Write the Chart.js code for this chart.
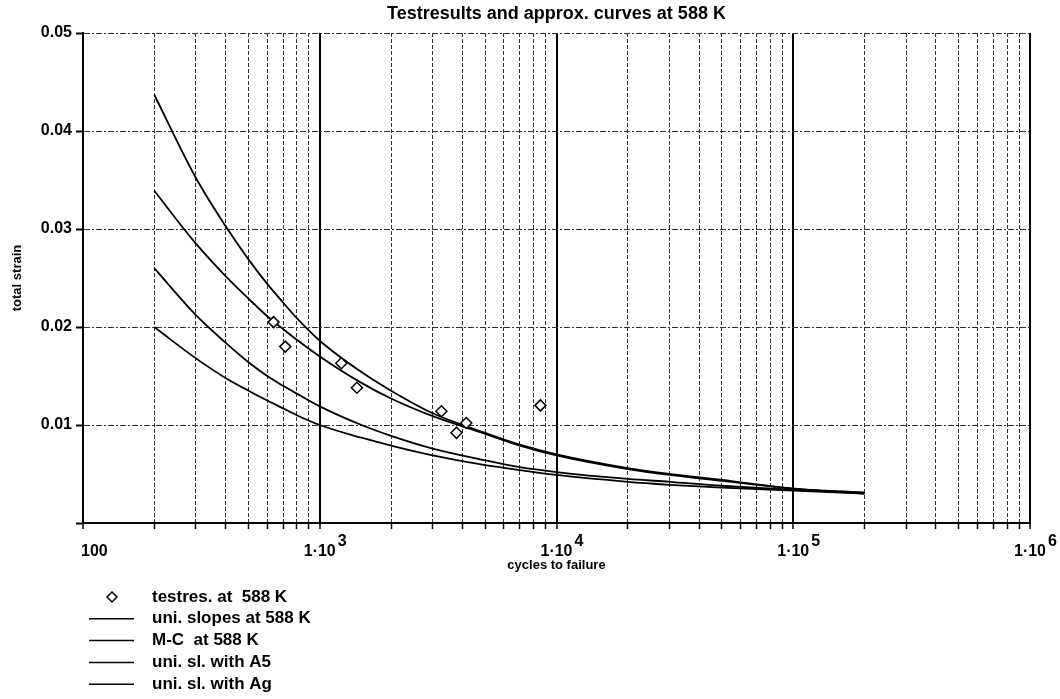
<!DOCTYPE html>
<html>
<head>
<meta charset="utf-8">
<script src="https://cdn.jsdelivr.net/npm/chart.js@4.4.1/dist/chart.umd.min.js"></script>
<style>
  body { margin: 0; background: #fff; }
  canvas { display: block; }
</style>
</head>
<body>
<canvas id="fatigueChart" width="1060" height="699"></canvas>
<script>
// test results at 588 K
const testCycles = [638, 715, 1233, 1435, 3265, 3780, 4160, 8550];
const testStrain = [0.0205, 0.0180, 0.0163, 0.0138, 0.0114, 0.0092, 0.0102, 0.0120];

// approximation curves, all sampled at the same cycle counts
const curveCycles = [200, 300, 400, 500, 600, 700, 800, 1000, 1500, 2000, 3000, 5000, 7000, 10000, 20000, 30000, 50000, 100000, 200000];
const uniSlopes = [0.0437, 0.0352, 0.0303, 0.0269, 0.0244, 0.0225, 0.0209, 0.0186, 0.0154, 0.0135, 0.0112, 0.0092, 0.0080, 0.0070, 0.0056, 0.0050, 0.0044, 0.0035, 0.0031];
const mansonCoffin = [0.0339, 0.0285, 0.0252, 0.0229, 0.0211, 0.0198, 0.0187, 0.0170, 0.0143, 0.0127, 0.0109, 0.0091, 0.0079, 0.0069, 0.0055, 0.0049, 0.0043, 0.0035, 0.0030];
const uniSlA5 = [0.0260, 0.0212, 0.0184, 0.0164, 0.0150, 0.0140, 0.0132, 0.0119, 0.0100, 0.0089, 0.0076, 0.0064, 0.0057, 0.0052, 0.0045, 0.0042, 0.0038, 0.0034, 0.0031];
const uniSlAg = [0.0200, 0.0168, 0.0148, 0.0135, 0.0125, 0.0117, 0.0110, 0.0100, 0.0087, 0.0079, 0.0069, 0.0059, 0.0054, 0.0049, 0.0042, 0.0039, 0.0036, 0.0033, 0.0030];

// x tick labels (base + exponent)
const xLabelValues = [100, 1000, 10000, 100000, 1000000];
const xLabelBase = ["100", "1·10", "1·10", "1·10", "1·10"];
const xLabelExp = ["", "3", "4", "5", "6"];

const FONT = '"Liberation Sans", Arial, sans-serif';

function isDecade(v) {
  const l = Math.log10(v);
  return Math.abs(l - Math.round(l)) < 1e-9;
}

function toPoints(xs, ys) {
  return xs.map((x, i) => ({ x: x, y: ys[i] }));
}

function curve(label, values) {
  return {
    label: label,
    data: toPoints(curveCycles, values),
    showLine: true,
    borderColor: "#000",
    borderWidth: 1.8,
    pointRadius: 0,
    cubicInterpolationMode: "monotone",
    fill: false,
  };
}

// x labels with raised exponent + legend list under the chart
const extrasPlugin = {
  id: "extras",
  afterDraw(chart) {
    const ctx = chart.ctx;
    const xs = chart.scales.x;
    ctx.save();
    ctx.fillStyle = "#000";
    ctx.textBaseline = "middle";
    ctx.font = "bold 16px " + FONT;
    const ly = xs.top + 29;
    xLabelValues.forEach((v, i) => {
      const px = xs.getPixelForValue(v);
      if (!xLabelExp[i]) {
        ctx.textAlign = "left";
        ctx.fillText(xLabelBase[i], px - 2, ly);
        return;
      }
      ctx.textAlign = "center";
      ctx.fillText(xLabelBase[i], px, ly);
      const w = ctx.measureText(xLabelBase[i]).width;
      ctx.textAlign = "left";
      ctx.fillText(xLabelExp[i], px + w / 2 + 2, ly - 10);
    });

    // legend
    ctx.font = "bold 17px " + FONT;
    ctx.textAlign = "left";
    chart.data.datasets.forEach((ds, i) => {
      const y = 597 + i * 21.8;
      ctx.strokeStyle = "#000";
      ctx.lineWidth = 1.5;
      if (ds.showLine) {
        ctx.beginPath();
        ctx.moveTo(89, y);
        ctx.lineTo(134, y);
        ctx.stroke();
      } else {
        ctx.fillStyle = "#fff";
        ctx.beginPath();
        ctx.moveTo(112, y - 5);
        ctx.lineTo(117, y);
        ctx.lineTo(112, y + 5);
        ctx.lineTo(107, y);
        ctx.closePath();
        ctx.fill();
        ctx.stroke();
      }
      ctx.fillStyle = "#000";
      ctx.fillText(ds.label, 152, y);
    });
    ctx.restore();
  },
};

const ctx = document.getElementById("fatigueChart").getContext("2d");
new Chart(ctx, {
  type: "scatter",
  data: {
    datasets: [
      {
        label: "testres. at  588 K",
        data: toPoints(testCycles, testStrain),
        pointStyle: "rectRot",
        pointRadius: 5.5,
        pointBackgroundColor: "#fff",
        pointBorderColor: "#000",
        pointBorderWidth: 1.5,
        showLine: false,
      },
      curve("uni. slopes at 588 K", uniSlopes),
      curve("M-C  at 588 K", mansonCoffin),
      curve("uni. sl. with A5", uniSlA5),
      curve("uni. sl. with Ag", uniSlAg),
    ],
  },
  options: {
    responsive: false,
    animation: false,
    layout: { padding: { left: 0, right: 30, top: 0, bottom: 126 } },
    plugins: {
      legend: { display: false },
      tooltip: { enabled: false },
      title: {
        display: true,
        fullSize: false,
        text: "Testresults and approx. curves at 588 K",
        color: "#000",
        font: { family: FONT, size: 18, weight: "bold" },
        padding: { top: 3, bottom: 8.4 },
      },
    },
    scales: {
      x: {
        type: "logarithmic",
        min: 100,
        max: 1000000,
        afterBuildTicks: (scale) => {
          const ticks = [];
          for (let d = 100; d < 1000000; d *= 10) {
            for (let k = 1; k <= 9; k++) ticks.push({ value: k * d });
          }
          ticks.push({ value: 1000000 });
          scale.ticks = ticks;
        },
        afterFit: (scale) => { scale.height = 50; },
        ticks: { display: false },
        grid: {
          color: (c) => (c.tick && isDecade(c.tick.value) ? "#000" : "#333"),
          lineWidth: (c) => (c.tick && isDecade(c.tick.value) ? 2 : 1),
          tickColor: "#000",
          tickWidth: 1.5,
          tickLength: 6,
        },
        border: {
          display: true,
          color: "#000",
          width: 2,
          dash: (c) => (c.tick && !isDecade(c.tick.value) ? [4, 2] : []),
        },
        title: {
          display: true,
          text: "cycles to failure",
          color: "#000",
          font: { family: FONT, size: 13, weight: "bold" },
          padding: { top: 0, bottom: 0 },
        },
      },
      y: {
        min: 0,
        max: 0.05,
        afterFit: (scale) => { scale.width = 83; },
        ticks: {
          stepSize: 0.01,
          color: "#000",
          padding: 4,
          font: { family: FONT, size: 16, weight: "bold" },
          callback: (v) => (v > 0 ? v.toFixed(2) : ""),
        },
        grid: {
          color: "#333",
          lineWidth: 1,
          tickColor: "#000",
          tickWidth: 2,
          tickLength: 7,
        },
        border: {
          display: true,
          color: "#000",
          width: 2,
          dash: [6, 2, 2, 2],
        },
        title: {
          display: true,
          text: "total strain",
          color: "#000",
          font: { family: FONT, size: 13, weight: "bold" },
          padding: { top: 10, bottom: 0 },
        },
      },
    },
  },
  plugins: [extrasPlugin],
});
</script>
</body>
</html>
